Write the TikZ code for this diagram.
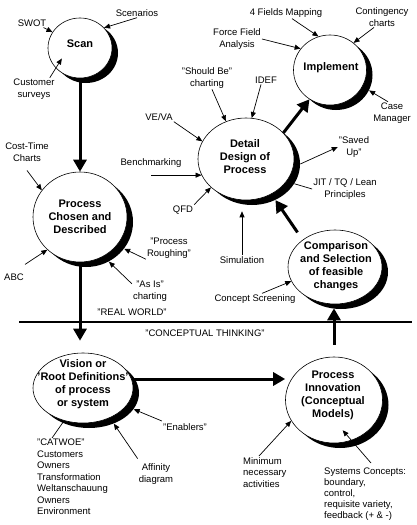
\documentclass[tikz,border=0pt]{standalone}
\usepackage{fontspec}
\setmainfont{Liberation Sans}
\usetikzlibrary{arrows.meta,positioning,calc,shapes.geometric,shadows}
\definecolor{inkC}  {HTML}{000000}
\definecolor{paperC}{HTML}{FFFFFF}
\tikzset{
  bubble/.style 2 args={ellipse,draw=inkC,line width=0.6pt,fill=paperC,
                 inner sep=0pt,minimum width=#1,minimum height=#2,
                 drop shadow={shadow xshift=6pt,shadow yshift=-5pt,
                              opacity=1,fill=inkC}},
  bubbleText/.style={font=\fontsize{11}{13}\selectfont\bfseries,
                 align=center,inner sep=0pt},
  toolLabel/.style={font=\fontsize{9.5}{11.5}\selectfont,align=center,
                 inner sep=1pt},
  toolList/.style={toolLabel,align=left},
  mainFlow/.style={-{Triangle[length=12pt,width=13pt]},line width=3pt,inkC},
  toolArrow/.style={-{Triangle[length=6pt,width=5pt]},line width=0.7pt,inkC},
  toolLine/.style={line width=0.7pt,inkC},
  divider/.style={line width=2pt,inkC},
}
\begin{document}
\begin{tikzpicture}[x=1pt,y=-1pt]
\useasboundingbox (0,0) rectangle (417,525);

% Stages: shadowed bubbles, bold text laid on top.
\node[bubble={64pt}{60pt}] (scan)   at (80,48)   {};
\node[bubble={73pt}{70pt}] (impl)   at (330,70)  {};
\node[bubble={96pt}{82pt}] (detail) at (246,159) {};
\node[bubble={94pt}{90pt}] (chosen) at (80,217)  {};
\node[bubble={94pt}{74pt}] (comp)   at (335,267) {};
\node[bubble={100pt}{70pt}] (vision) at (83,388) {};
\node[bubble={97pt}{86pt}] (innov)  at (334,400) {};

\node[bubbleText] (scanT)   at (80,44)   {Scan};
\node[bubbleText] (implT)   at (331,68)  {Implement};
\node[bubbleText] (detailT) at (245,157) {Detail\\Design of\\Process};
\node[bubbleText] (chosenT) at (80,217)  {Process\\Chosen and\\Described};
\node[bubbleText] (compT)   at (336,266) {Comparison\\and Selection\\of feasible\\changes};
\node[bubbleText] (visionT) at (83,384)  {Vision or\\'Root Definitions'\\of process\\or system};
\node[bubbleText] (innovT)  at (333,395) {Process\\Innovation\\(Conceptual\\Models)};

% Real world / conceptual thinking split.
\coordinate (divL) at (19,322);
\coordinate (divR) at (412,322);
\draw[divider] (divL) -- (divR);
\node[toolLabel] (realW)    at (132,312) {"REAL WORLD"};
\node[toolLabel] (conceptW) at (205,333) {"CONCEPTUAL THINKING"};

% Main cycle.
\draw[mainFlow] (scan) -- (chosen);
\draw[mainFlow,shorten >=12pt] (chosen.south) -- (chosen.south |- vision.north);
\draw[mainFlow] ([yshift=9pt]vision.east) -- ([yshift=9pt]vision.east -| innov.west);
\draw[mainFlow,shorten <=12pt,shorten >=4pt] (innov.north) -- (innov.north |- comp.south);
\draw[mainFlow,shorten <=9pt] (comp.140) -- ([shift={(6pt,-5pt)}]detail.-57);
\draw[mainFlow] (detail.35) -- (impl.-125);

% Tools around each stage.
\node[toolLabel] (swot)   at (32,23)   {SWOT};
\node[toolLabel] (scen)   at (137,13)  {Scenarios};
\node[toolLabel] (cust)   at (34,89)   {Customer\\surveys};
\node[toolLabel] (fields) at (286,13)  {4 Fields Mapping};
\node[toolLabel] (cont)   at (382,17)  {Contingency\\charts};
\node[toolLabel] (force)  at (237,39)  {Force Field\\Analysis};
\node[toolLabel] (case)   at (392,113) {Case\\Manager};
\node[toolLabel] (should) at (207,78)  {"Should Be"\\charting};
\node[toolLabel] (idef)   at (266,80)  {IDEF};
\node[toolLabel] (veva)   at (159,117) {VE/VA};
\node[toolLabel] (bench)  at (151,163) {Benchmarking};
\node[toolLabel] (qfd)    at (183,210) {QFD};
\node[toolLabel] (saved)  at (354,147) {"Saved\\Up"};
\node[toolLabel] (jit)    at (345,189) {JIT / TQ / Lean\\Principles};
\node[toolLabel] (sim)    at (242,260) {Simulation};
\node[toolLabel] (concept) at (255,299) {Concept Screening};
\node[toolLabel] (rough)  at (169,248) {"Process\\Roughing"};
\node[toolLabel] (asis)   at (150,291) {"As Is"\\charting};
\node[toolLabel] (cost)   at (27,152)  {Cost-Time\\Charts};
\node[toolLabel] (abc)    at (14,277)  {ABC};
\node[toolLabel] (enab)   at (185,427) {"Enablers"};
\node[toolLabel] (affin)  at (156,474) {Affinity\\diagram};
\node[toolList,anchor=north west] (catwoe) at (36,438)
  {"CATWOE"\\Customers\\Owners\\Transformation\\Weltanschauung\\Owners\\Environment};
\node[toolList,anchor=north west] (minim) at (242,456)
  {Minimum\\necessary\\activities};
\node[toolList,anchor=north west,font=\fontsize{9.5}{10.8}\selectfont] (sys) at (323,467)
  {Systems Concepts:\\boundary,\\control,\\requisite variety,\\feedback (+ \& -)};

\draw[toolArrow] ([xshift=-4pt]swot.south east) -- (scan.150);
\draw[toolArrow] (scen.south) -- (scan.40);
\draw[toolArrow] ([xshift=-6pt]cust.north east) -- ($(scan.center)!0.66!(scan.210)$);
\draw[toolArrow] ([xshift=6pt]fields.south) -- (impl.109);
\draw[toolArrow] ([xshift=-8pt]cont.south) -- (impl.49);
\draw[toolArrow] (force.east) -- (impl.144);
\draw[toolArrow] ([xshift=-4pt]case.north) -- ([shift={(6pt,-5pt)}]impl.-25);
\draw[toolArrow] ([xshift=5pt]should.south) -- (detail.118);
\draw[toolArrow] ([xshift=-5pt]idef.south) -- (detail.82);
\draw[toolArrow] (veva.south east) -- (detail.158);
\draw[toolArrow] (bench.south |- detail.200) -- (detail.200);
\draw[toolArrow] (qfd.north east) -- (detail.219);
\draw[toolArrow] ([shift={(6pt,-5pt)}]detail.0) -- (saved.west);
\draw[toolLine]  ([shift={(6pt,-5pt)}]detail.-25) -- (jit.west);
\draw[toolArrow,shorten >=11pt] (sim.north) -- (sim.north |- detail.south);
\draw[toolArrow] ([xshift=7pt]concept.north) -- (comp.198);
\draw[toolArrow] (rough.south west) -- ([shift={(6pt,-5pt)}]chosen.-35);
\draw[toolArrow] ([yshift=-4pt]asis.north west) -- ([shift={(6pt,-5pt)}]chosen.-60);
\draw[toolArrow] ([yshift=-8pt]cost.south) -- (chosen.145);
\draw[toolArrow] ([yshift=8pt]abc.north east) -- (chosen.225);
\draw[toolArrow] ([yshift=6pt]enab.west) -- ([shift={(6pt,-5pt)}]vision.-20);
\draw[toolArrow] ([yshift=4pt]affin.north west) -- ([shift={(6pt,-5pt)}]vision.-51);
\draw[toolLine]  ([xshift=16pt]catwoe.north west) -- (vision.-120);
\draw[toolArrow] ([xshift=17pt]minim.north west) -- (innov.206);
\draw[toolArrow] ([xshift=48pt,yshift=4pt]sys.north west) -- ($(innov.center)!0.72!(innov.-74)$);

\end{tikzpicture}
\end{document}
